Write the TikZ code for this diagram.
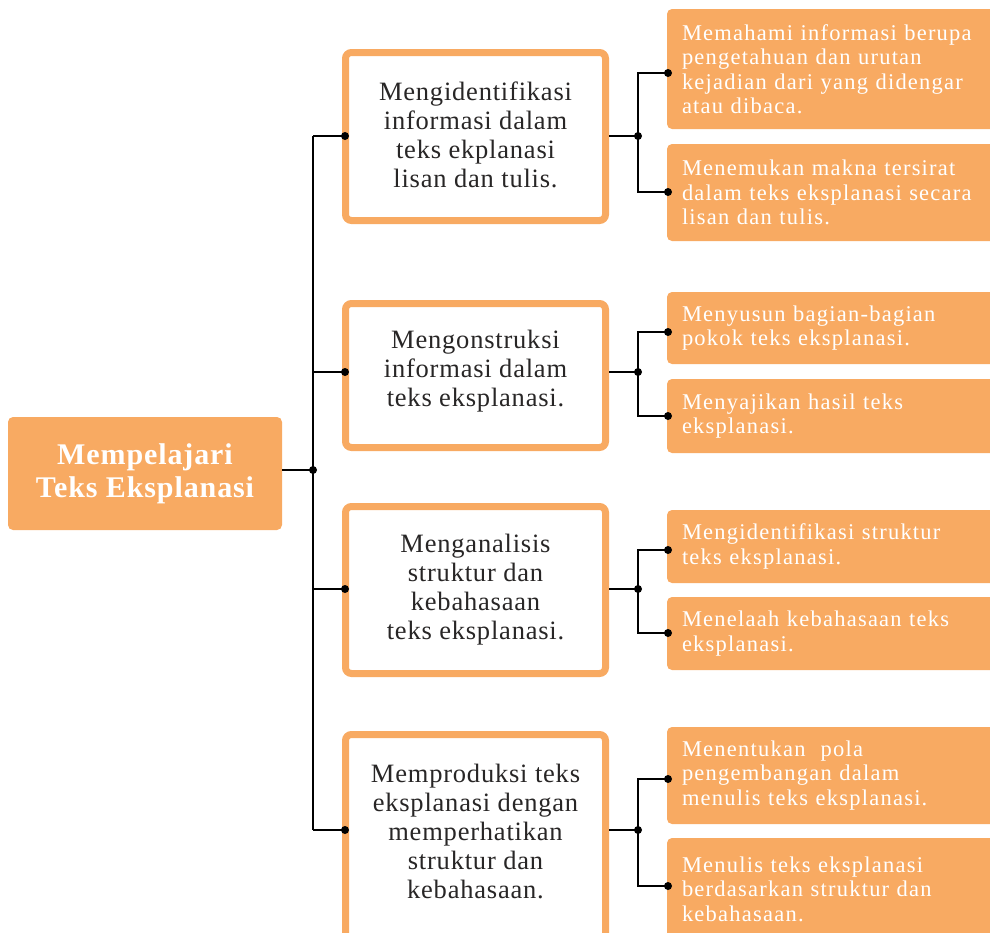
\documentclass[tikz,border=0pt]{standalone}
\usepackage{fontspec}
\setmainfont{Liberation Serif}
\definecolor{org}{RGB}{248,170,98}
\definecolor{ink}{RGB}{40,38,38}
\tikzset{
  rootbox/.style={fill=org, rounded corners=5pt, minimum width=274pt, minimum height=113pt,
    inner sep=0pt, align=center, text=white,
    font=\bfseries\fontsize{30}{33}\selectfont\addfontfeatures{LetterSpace=3}},
  midbox/.style={draw=org, line width=7pt, fill=white, rounded corners=6pt,
    minimum width=260pt, inner sep=0pt},
  midtext/.style={align=center, text=ink, inner sep=0pt,
    font=\fontsize{26.5}{29}\selectfont\addfontfeatures{LetterSpace=3}},
  rightbox/.style={fill=org, rounded corners=5pt, text width=318pt, inner xsep=15pt,
    inner ysep=0pt, align=left, text=white,
    font=\fontsize{22.5}{24.5}\selectfont\addfontfeatures{LetterSpace=5.5}},
  conn/.style={draw=black, line width=2pt},
  dot/.style={fill=black}
}
\begin{document}
\begin{tikzpicture}[x=1pt,y=-1pt]
\useasboundingbox (0,0) rectangle (990,932);
\clip (0,0) rectangle (990,932);

% root
\node[rootbox] (root) at (145,473.5) {Mempelajari\\Teks Eksplanasi};

% middle boxes
\node[midbox, minimum height=168pt] (m1) at (475.5,136.5) {};
\node[midtext] (t1) at (475.5,135) {Mengidentifikasi\\informasi dalam\\teks ekplanasi\\lisan dan tulis.};
\node[midbox, minimum height=144pt] (m2) at (475.5,375.5) {};
\node[midtext] (t2) at (475.5,371) {Mengonstruksi\\informasi dalam\\teks eksplanasi.};
\node[midbox, minimum height=167pt] (m3) at (475.5,590) {};
\node[midtext] (t3) at (475.5,589.5) {Menganalisis\\struktur dan\\kebahasaan\\teks eksplanasi.};
\node[midbox, minimum height=210pt] (m4) at (475.5,839.5) {};
\node[midtext] (t4) at (475.5,831) {Memproduksi teks\\eksplanasi dengan\\memperhatikan\\struktur dan\\kebahasaan.};

% right boxes
\node[rightbox, minimum height=120pt] (r1a) at (841,69) {Memahami informasi berupa\\pengetahuan dan urutan\\kejadian dari yang didengar\\atau dibaca.};
\node[rightbox, minimum height=97pt] (r1b) at (841,192.5) {Menemukan makna tersirat\\dalam teks eksplanasi secara\\lisan dan tulis.};
\node[rightbox, minimum height=72pt] (r2a) at (841,328) {Menyusun bagian-bagian\\pokok teks eksplanasi.};
\node[rightbox, minimum height=74pt] (r2b) at (841,416) {Menyajikan hasil teks\\eksplanasi.};
\node[rightbox, minimum height=73pt] (r3a) at (841,546.5) {Mengidentifikasi struktur\\teks eksplanasi.};
\node[rightbox, minimum height=73pt] (r3b) at (841,633.5) {Menelaah kebahasaan teks\\eksplanasi.};
\node[rightbox, minimum height=97pt] (r4a) at (841,775.5) {Menentukan\ \ pola\\pengembangan dalam\\menulis teks eksplanasi.};
\node[rightbox, minimum height=102pt] (r4b) at (841,889) {Menulis teks eksplanasi\\berdasarkan struktur dan\\kebahasaan.};

% coordinates
\coordinate (s0) at (313,470);
\coordinate (s1) at (313,136);
\coordinate (s2) at (313,372);
\coordinate (s3) at (313,589);
\coordinate (s4) at (313,830);
\coordinate (d1) at (345,136);
\coordinate (d2) at (345,372);
\coordinate (d3) at (345,589);
\coordinate (d4) at (345,830);
\coordinate (j1) at (638,136);
\coordinate (j2) at (638,372);
\coordinate (j3) at (638,589);
\coordinate (j4) at (638,830);
\coordinate (e1a) at (668,73);
\coordinate (e1b) at (668,192);
\coordinate (e2a) at (668,332);
\coordinate (e2b) at (668,416);
\coordinate (e3a) at (668,550);
\coordinate (e3b) at (668,633);
\coordinate (e4a) at (668,779);
\coordinate (e4b) at (668,886);

% spine
\draw[conn] (root.east |- s0) -- (s0);
\draw[conn] (s1) -- (s4);
\foreach \i in {1,2,3,4} {
  \draw[conn] (s\i) -- (d\i);
  \draw[conn] (m\i.east |- j\i) -- (j\i);
}
\draw[conn] (e1a) -| (j1) |- (e1b);
\draw[conn] (e2a) -| (j2) |- (e2b);
\draw[conn] (e3a) -| (j3) |- (e3b);
\draw[conn] (e4a) -| (j4) |- (e4b);

% dots
\foreach \p in {s0,d1,d2,d3,d4,j1,j2,j3,j4,e1a,e1b,e2a,e2b,e3a,e3b,e4a,e4b}
  \fill[dot] (\p) circle (4pt);
\end{tikzpicture}
\end{document}
